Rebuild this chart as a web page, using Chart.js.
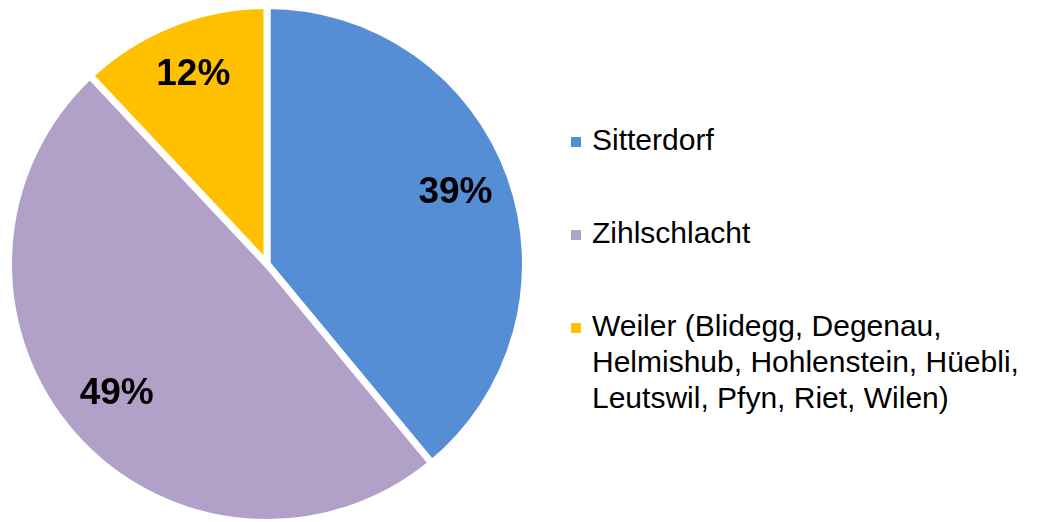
<!DOCTYPE html>
<html>
<head>
<meta charset="utf-8">
<script src="https://cdn.jsdelivr.net/npm/chart.js@4"></script>
<style>
  html, body { margin: 0; padding: 0; background: #fff; overflow: hidden; }
  body { width: 1038px; height: 522px; position: relative; font-family: "Liberation Sans", Arial, sans-serif; }
  #wrap { position: absolute; left: 5px; top: 2px; width: 524px; height: 524px; }
  #legend { position: absolute; left: 571px; top: 122px; }
  .item { position: relative; padding-left: 21px; font-size: 30px; line-height: 36px; color: #000; margin-bottom: 57px; }
  .item .box { position: absolute; left: 0; top: 15px; width: 10px; height: 10px; }
</style>
</head>
<body>
<div id="wrap"><canvas id="pie-chart"></canvas></div>
<div id="legend"></div>
<script>
const places = ["Sitterdorf", "Zihlschlacht", "Weiler (Blidegg, Degenau,\nHelmishub, Hohlenstein, Hüebli,\nLeutswil, Pfyn, Riet, Wilen)"];
const shares = [39, 49, 12];
const colors = ["#558ed5", "#b1a0c7", "#ffc000"];

// legend next to the pie
const legend = document.getElementById("legend");
places.forEach((name, i) => {
  const item = document.createElement("div");
  item.className = "item";
  const box = document.createElement("span");
  box.className = "box";
  box.style.background = colors[i];
  item.appendChild(box);
  name.split("\n").forEach((line, j) => {
    if (j > 0) item.appendChild(document.createElement("br"));
    item.appendChild(document.createTextNode(line));
  });
  legend.appendChild(item);
});

// percent labels placed along each slice's middle angle
const percentLabels = {
  id: "percentLabels",
  afterDatasetsDraw(chart) {
    const ctx = chart.ctx;
    const arcs = chart.getDatasetMeta(0).data;
    ctx.save();
    ctx.font = "bold 37px 'Liberation Sans', Arial, sans-serif";
    ctx.fillStyle = "#000";
    ctx.textAlign = "center";
    ctx.textBaseline = "middle";
    arcs.forEach((arc, i) => {
      const mid = (arc.startAngle + arc.endAngle) / 2;
      const r = arc.outerRadius * 0.775;
      ctx.fillText(shares[i] + "%", arc.x + Math.cos(mid) * r, arc.y + Math.sin(mid) * r - 3);
    });
    ctx.restore();
  },
};

const myChart = new Chart("pie-chart", {
  type: "pie",
  data: {
    labels: places,
    datasets: [
      {
        data: shares,
        backgroundColor: colors,
        borderColor: "#ffffff",
        borderWidth: 7,
      },
    ],
  },
  options: {
    responsive: true,
    maintainAspectRatio: false,
    animation: false,
    plugins: {
      legend: { display: false },
      tooltip: { enabled: false },
    },
  },
  plugins: [percentLabels],
});
</script>
</body>
</html>
